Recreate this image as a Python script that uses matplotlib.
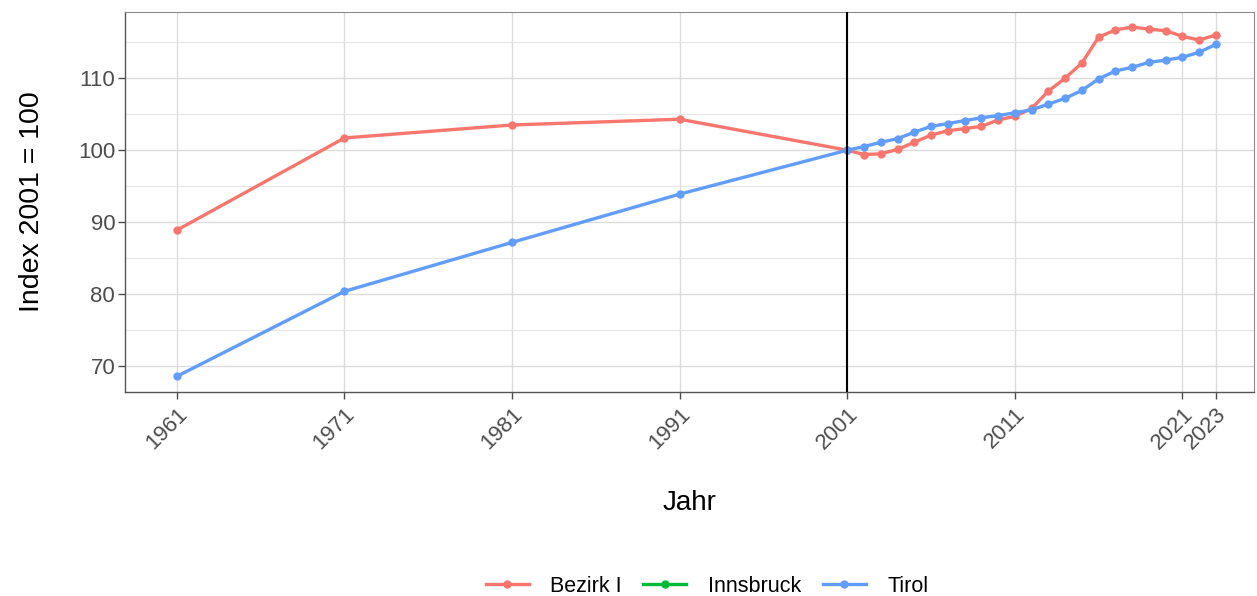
import matplotlib
matplotlib.use("Agg")
import matplotlib.pyplot as plt
from matplotlib.lines import Line2D

plt.rcParams['font.family'] = ['Liberation Sans', 'DejaVu Sans']

years = [1961, 1971, 1981, 1991, 2001, 2002, 2003, 2004, 2005, 2006, 2007, 2008,
         2009, 2010, 2011, 2012, 2013, 2014, 2015, 2016, 2017, 2018, 2019, 2020,
         2021, 2022, 2023]
bezirk_i = [88.9, 101.7, 103.5, 104.3, 100.0, 99.4, 99.5, 100.1, 101.1, 102.1, 102.7,
            103.0, 103.3, 104.2, 104.7, 105.8, 108.2, 110.0, 112.1, 115.7, 116.7, 117.1,
            116.8, 116.6, 115.8, 115.3, 116.0]
innsbruck = []  # listed in legend, no visible values
tirol = [68.6, 80.4, 87.2, 93.9, 100.0, 100.5, 101.1, 101.6, 102.5, 103.3, 103.7,
         104.1, 104.5, 104.8, 105.2, 105.6, 106.4, 107.2, 108.3, 109.9, 111.0, 111.5,
         112.2, 112.5, 112.9, 113.6, 114.7]
x_breaks = [1961, 1971, 1981, 1991, 2001, 2011, 2021, 2023]
y_breaks = [70, 80, 90, 100, 110]
y_minor = [75, 85, 95, 105, 115]

colors = {'Bezirk I': '#F8766D', 'Innsbruck': '#00BA38', 'Tirol': '#619CFF'}

fig = plt.figure(figsize=(12.57, 5.96), dpi=100)
ax = fig.add_axes([0.0994, 0.342, 0.8986, 0.638])

lw = 2.4
ms = 5
ax.plot(years, bezirk_i, color=colors['Bezirk I'], lw=lw, marker='o', ms=ms, zorder=3)
ax.plot([], innsbruck, color=colors['Innsbruck'], lw=lw, marker='o', ms=ms)
ax.plot(years, tirol, color=colors['Tirol'], lw=lw, marker='o', ms=ms, zorder=3)
ax.axvline(2001, color='black', lw=1.5, zorder=4)

ax.set_xlim(1957.9, 2025.3)
ax.set_ylim(66.4, 119.2)
ax.set_xticks(x_breaks)
ax.set_xticklabels([str(v) for v in x_breaks], rotation=45, ha='right', va='top',
                   rotation_mode='anchor')
ax.set_yticks(y_breaks)
ax.set_yticks(y_minor, minor=True)
ax.tick_params(axis='both', which='major', labelsize=16, colors='#4d4d4d',
               length=5, width=1, labelcolor='#4d4d4d')
ax.tick_params(axis='y', which='major', pad=2)
ax.tick_params(axis='y', which='minor', length=0)
ax.grid(True, which='major', color='#dcdcdc', lw=1.0)
ax.grid(True, which='minor', axis='y', color='#e6e6e6', lw=0.8)
ax.set_axisbelow(True)

for side in ['left', 'bottom']:
    ax.spines[side].set_color('#555555')
    ax.spines[side].set_linewidth(1.0)
for side in ['top', 'right']:
    ax.spines[side].set_color('#8c8c8c')
    ax.spines[side].set_linewidth(0.8)

ax.set_xlabel('Jahr', fontsize=20, labelpad=26)
ax.set_ylabel('Index 2001 = 100', fontsize=20.5, labelpad=24)

handles = [Line2D([], [], color=colors[k], lw=lw, marker='o', ms=ms) for k in colors]
fig.legend(handles, list(colors.keys()), loc='center', bbox_to_anchor=(0.5625, 0.016),
           ncol=3, frameon=False, fontsize=15.5, handlelength=2.0, handletextpad=1.0,
           columnspacing=1.0)

fig.savefig('out.png', dpi=100)
